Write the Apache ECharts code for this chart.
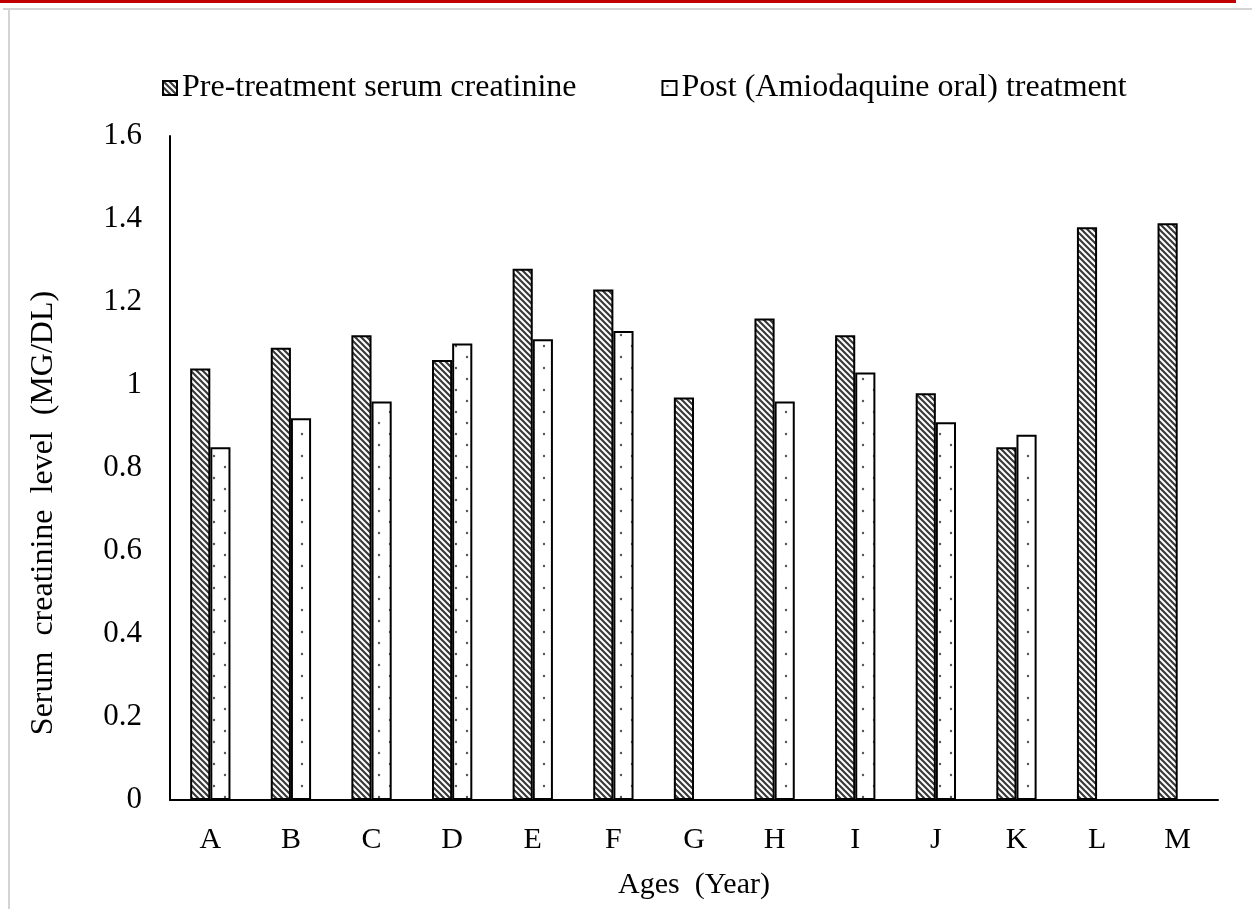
<!DOCTYPE html>
<html>
<head>
<meta charset="utf-8">
<title>Serum creatinine level</title>
<script src="https://cdn.jsdelivr.net/npm/echarts@6/dist/echarts.min.js"></script>
<style>
  html, body { margin: 0; padding: 0; background: #ffffff; }
  #chart { width: 1252px; height: 909px; }
</style>
</head>
<body>
<div id="chart"></div>
<script>
// Age groups along the x axis
const categories = ['A', 'B', 'C', 'D', 'E', 'F', 'G', 'H', 'I', 'J', 'K', 'L', 'M'];
// Serum creatinine (MG/DL) before treatment
const preTreatment = [1.04, 1.09, 1.12, 1.06, 1.28, 1.23, 0.97, 1.16, 1.12, 0.98, 0.85, 1.38, 1.39];
// Serum creatinine (MG/DL) after oral amodiaquine treatment (no value for G, L, M)
const postTreatment = [0.85, 0.92, 0.96, 1.10, 1.11, 1.13, null, 0.96, 1.03, 0.91, 0.88, null, null];
// Value axis ticks
const yMin = 0, yMax = 1.6, yStep = 0.2;

const FONT = '"Liberation Serif", "Times New Roman", serif';

// Diagonal hatch tile for the pre-treatment bars
function hatchTile() {
  const s = 6;
  const c = document.createElement('canvas');
  c.width = s; c.height = s;
  const g = c.getContext('2d');
  g.fillStyle = '#ffffff';
  g.fillRect(0, 0, s, s);
  g.strokeStyle = '#3a3a3a';
  g.lineWidth = 2.2;
  g.beginPath();
  g.moveTo(-1, -1); g.lineTo(s + 1, s + 1);
  g.moveTo(-1 - s, -1); g.lineTo(1, s + 1);
  g.moveTo(s - 1, -1); g.lineTo(2 * s + 1, s + 1);
  g.stroke();
  return c;
}

// Sparse dot tile for the post-treatment bars
function dotTile() {
  const s = 22;
  const c = document.createElement('canvas');
  c.width = s; c.height = s;
  const g = c.getContext('2d');
  g.fillStyle = '#ffffff';
  g.fillRect(0, 0, s, s);
  g.fillStyle = '#555555';
  [[5, 5], [16, 16]].forEach(([x, y]) => {
    g.beginPath();
    g.arc(x, y, 1.2, 0, Math.PI * 2);
    g.fill();
  });
  return c;
}

const chart = echarts.init(document.getElementById('chart'), null, { renderer: 'canvas' });

chart.setOption({
  backgroundColor: '#ffffff',
  animation: false,
  textStyle: { fontFamily: FONT, color: '#000000' },
  graphic: [
    { type: 'rect', shape: { x: 0, y: 0, width: 1236, height: 3 }, style: { fill: '#c00000' }, z: 100 },
    { type: 'line', shape: { x1: 3, y1: 9, x2: 1252, y2: 9 }, style: { stroke: '#d4d4d4', lineWidth: 2 }, z: 100 },
    { type: 'line', shape: { x1: 9, y1: 9, x2: 9, y2: 909 }, style: { stroke: '#d4d4d4', lineWidth: 2 }, z: 100 }
  ],
  legend: {
    left: 157,
    top: 67,
    itemWidth: 14,
    itemHeight: 14,
    itemGap: 85,
    icon: 'rect',
    textStyle: { fontFamily: FONT, fontSize: 32, color: '#000000' },
    data: ['Pre-treatment serum creatinine', 'Post (Amiodaquine oral) treatment']
  },
  grid: { left: 170, right: 34, top: 136, bottom: 109, containLabel: false },
  xAxis: {
    type: 'category',
    data: categories,
    axisLine: { lineStyle: { color: '#000000', width: 2 } },
    axisTick: { show: false },
    axisLabel: { fontFamily: FONT, fontSize: 30, color: '#000000', margin: 25 },
    name: 'Ages  (Year)',
    nameLocation: 'middle',
    nameGap: 70,
    nameTextStyle: { fontFamily: FONT, fontSize: 30, color: '#000000' }
  },
  yAxis: {
    type: 'value',
    min: yMin,
    max: yMax,
    interval: yStep,
    splitLine: { show: false },
    axisLine: { show: true, lineStyle: { color: '#000000', width: 2 } },
    axisTick: { show: false },
    axisLabel: { fontFamily: FONT, fontSize: 31, color: '#000000', margin: 28 },
    name: 'Serum  creatinine  level  (MG/DL)',
    nameLocation: 'middle',
    nameGap: 110,
    nameTextStyle: { fontFamily: FONT, fontSize: 32, color: '#000000', padding: [0, 90, 0, 0] }
  },
  series: [
    {
      name: 'Pre-treatment serum creatinine',
      type: 'bar',
      data: preTreatment,
      barGap: '0%',
      barCategoryGap: '50%',
      itemStyle: {
        color: { image: hatchTile(), repeat: 'repeat' },
        borderColor: '#000000',
        borderWidth: 2
      }
    },
    {
      name: 'Post (Amiodaquine oral) treatment',
      type: 'bar',
      data: postTreatment,
      barGap: '0%',
      barCategoryGap: '50%',
      itemStyle: {
        color: { image: dotTile(), repeat: 'repeat' },
        borderColor: '#000000',
        borderWidth: 2
      }
    }
  ]
});
</script>
</body>
</html>
